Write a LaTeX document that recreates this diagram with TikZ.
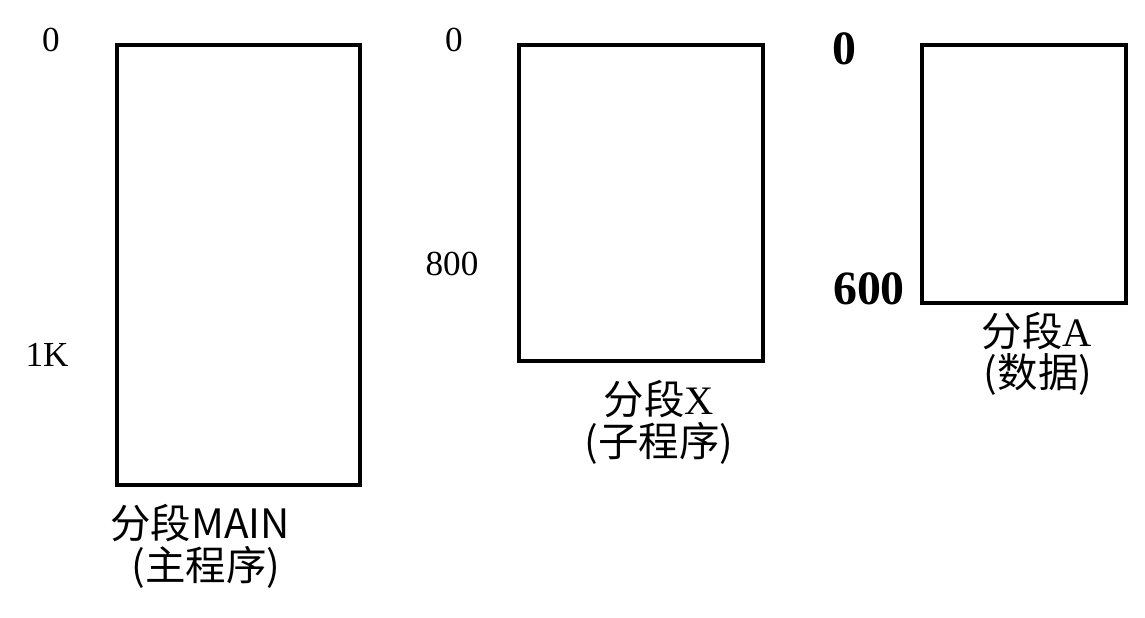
\documentclass[tikz,border=0pt]{standalone}
\usepackage{fontspec}
\setmainfont{Liberation Serif}
\newfontfamily\cjk{Noto Sans CJK SC}
\usepackage{tikz}
\newcommand{\drawseg}{\draw[line width=1.4pt]}
\newcommand{\addr}[4]{\node[font=\fontsize{10pt}{12pt}\selectfont] (#1) at (#2,#3) {#4};}
\newcommand{\addrbig}[4]{\node[font=\fontsize{13.6pt}{15pt}\selectfont\bfseries] (#1) at (#2,#3) {#4};}
\newcommand{\segname}[4]{\node[font=\fontsize{11.5pt}{13pt}\selectfont] (#1) at (#2,#3) {#4};}

\begin{document}
\begin{tikzpicture}[x=0.01cm,y=-0.01cm,inner sep=0pt]
\useasboundingbox (0,0) rectangle (1145,617);
\drawseg (117,45) rectangle (360,485);
    \drawseg (519,45) rectangle (763,361);
    \drawseg (922,45) rectangle (1126,303);
\addr{mainzero}{51}{40}{0}\addr{mainend}{47}{355}{1K}\addr{xzero}{454}{40}{0}\addr{xend}{452}{264}{800}\addrbig{azero}{844}{49}{0}\addrbig{aend}{869}{289}{600}
\segname{mainname}{200}{523}{{\cjk 分段MAIN}}\segname{mainnote}{206}{567}{{\cjk (主程序)}}\segname{xname}{659}{399}{{\cjk 分段}X}\segname{xnote}{659}{443}{{\cjk (子程序)}}\segname{aname}{1037}{331}{{\cjk 分段}A}\segname{anote}{1038}{374}{{\cjk (数据)}}\end{tikzpicture}
\end{document}
